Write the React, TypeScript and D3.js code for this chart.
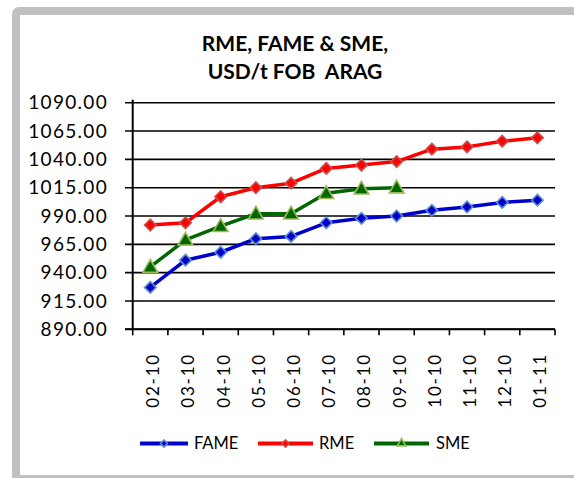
import React from "react";
import * as d3 from "d3";

const categories = ["02-10", "03-10", "04-10", "05-10", "06-10", "07-10", "08-10", "09-10", "10-10", "11-10", "12-10", "01-11"];
const fameValues = [927, 951, 958, 970, 972, 984, 988, 990, 995, 998, 1002, 1004];
const rmeValues = [982, 984, 1007, 1015, 1019, 1032, 1035, 1038, 1049, 1051, 1056, 1059];
const smeValues = [945, 969, 981, 992, 992, 1010, 1014, 1015];
const yTicks = [890, 915, 940, 965, 990, 1015, 1040, 1065, 1090];
const titleLines = ["RME, FAME & SME,", "USD/t FOB  ARAG"];

const W = 574;
const H = 478;
const FONT = "Lato, 'Open Sans', sans-serif";

type Series = { name: string; values: number[]; line: string; fill: string; stroke: string; marker: "diamond" | "triangle" };

const series: Series[] = [
  { name: "FAME", values: fameValues, line: "#0000CC", fill: "#0000CC", stroke: "#5B8FD0", marker: "diamond" },
  { name: "RME", values: rmeValues, line: "#FF0000", fill: "#FF0000", stroke: "#C8504D", marker: "diamond" },
  { name: "SME", values: smeValues, line: "#006600", fill: "#006600", stroke: "#9BBB59", marker: "triangle" },
];

function Marker({ x, y, s, size }: { x: number; y: number; s: Series; size: number }) {
  if (s.marker === "diamond") {
    const sym = d3.symbol(d3.symbolDiamond2, size * size * 2)();
    return <path d={sym || ""} transform={`translate(${x},${y})`} fill={s.fill} stroke={s.stroke} strokeWidth={1.6} />;
  }
  const sym = d3.symbol(d3.symbolTriangle, size * size * 1.9)();
  return <path d={sym || ""} transform={`translate(${x},${y})`} fill={s.fill} stroke={s.stroke} strokeWidth={1.6} />;
}

export default function App() {
  const x = d3.scaleBand<string>().domain(categories).range([132.7, 555]);
  const y = d3.scaleLinear().domain([890, 1090]).range([329.3, 102.7]);
  const cx = (c: string) => (x(c) as number) + x.bandwidth() / 2;
  const lineGen = d3
    .line<number>()
    .x((_, i) => cx(categories[i]))
    .y((v) => y(v));

  const legendItems = [
    { s: series[0], x0: 140, x1: 188, tx: 194 },
    { s: series[1], x0: 258, x1: 313, tx: 319 },
    { s: series[2], x0: 374, x1: 429, tx: 436 },
  ];

  return (
    <svg width={W} height={H} style={{ position: "absolute", left: 0, top: 0, background: "#fff" }}>
      <rect x={0} y={0} width={W} height={H} fill="#fff" />
      <rect x={16} y={11} width={600} height={468} fill="#fff" stroke="#C0C0C0" strokeWidth={8} rx={3} />

      {titleLines.map((t, i) => (
        <text
          key={t}
          x={295}
          y={51 + i * 28}
          textAnchor="middle"
          fontFamily={FONT}
          fontWeight={700}
          fontSize={21}
          fill="#000"
          style={{ whiteSpace: "pre" }}
        >
          {t}
        </text>
      ))}

      {yTicks.map((v) => (
        <g key={v}>
          <line x1={125} x2={555} y1={y(v)} y2={y(v)} stroke="#000" strokeWidth={1.6} />
          <text x={108} y={y(v)} dy="0.35em" textAnchor="end" fontFamily={FONT} fontSize={19} letterSpacing={1.3} fill="#000">
            {v.toFixed(2)}
          </text>
        </g>
      ))}

      <line x1={132.7} x2={132.7} y1={y(1090) - 3} y2={y(890) + 1} stroke="#000" strokeWidth={2} />
      <line x1={125} x2={555} y1={y(890)} y2={y(890)} stroke="#000" strokeWidth={2} />
      {categories.map((c) => {
        const xe = (x(c) as number) + x.bandwidth();
        return <line key={"t" + c} x1={xe} x2={xe} y1={y(890)} y2={y(890) + 6} stroke="#000" strokeWidth={1.6} />;
      })}
      <line x1={132.7} x2={132.7} y1={y(890)} y2={y(890) + 6} stroke="#000" strokeWidth={1.6} />
      {categories.map((c) => (
        <text
          key={"l" + c}
          transform={`translate(${cx(c) + 3},353) rotate(-90)`}
          textAnchor="end"
          dy="0.35em"
          fontFamily={FONT}
          fontSize={17}
          letterSpacing={1.8}
          fill="#000"
        >
          {c}
        </text>
      ))}

      {series.map((s) => (
        <g key={s.name}>
          <path d={lineGen(s.values) || ""} fill="none" stroke={s.line} strokeWidth={3.5} strokeLinejoin="round" />
          {s.values.map((v, i) => (
            <Marker key={i} x={cx(categories[i])} y={y(v) + (s.marker === "triangle" ? 1 : 0)} s={s} size={s.marker === "triangle" ? 7 : 6.5} />
          ))}
        </g>
      ))}

      {legendItems.map(({ s, x0, x1, tx }) => (
        <g key={"lg" + s.name}>
          <line x1={x0} x2={x1} y1={443.5} y2={443.5} stroke={s.line} strokeWidth={4} />
          <Marker x={(x0 + x1) / 2} y={443.5} s={s} size={4} />
          <text x={tx} y={443.5} dy="0.36em" fontFamily={FONT} fontSize={16.5} fill="#000">
            {s.name}
          </text>
        </g>
      ))}
    </svg>
  );
}
